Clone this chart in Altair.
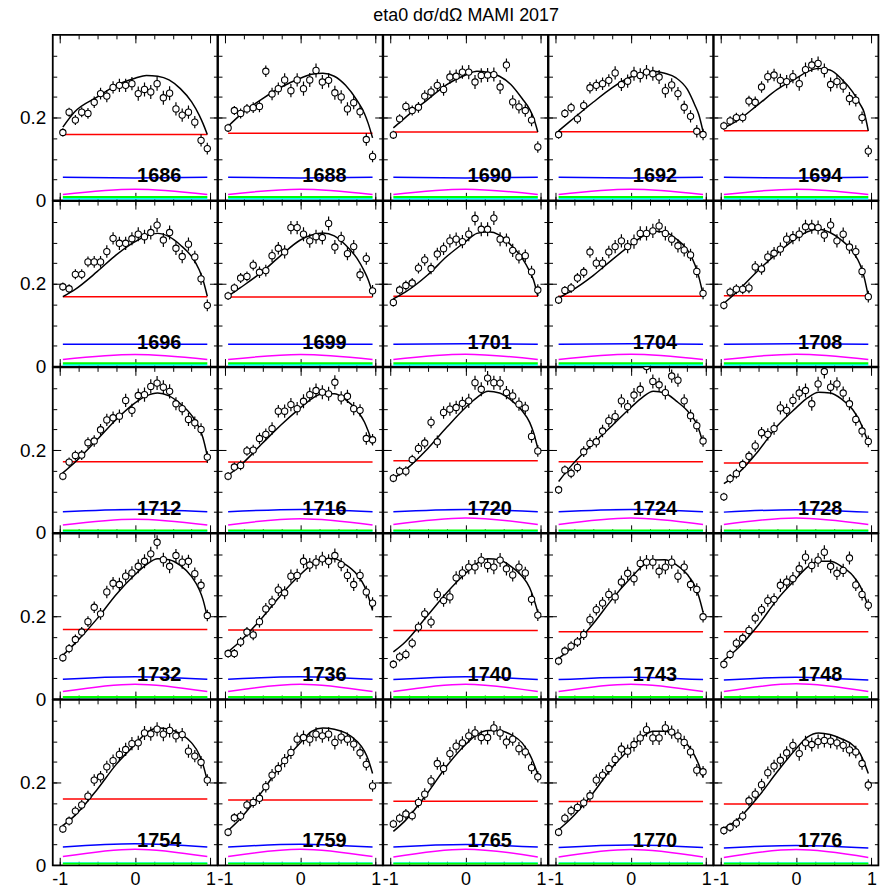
import altair as alt
import pandas as pd

TITLE = "eta0 dσ/dΩ MAMI 2017"
ENERGIES = [1686, 1688, 1690, 1692, 1694,
            1696, 1699, 1701, 1704, 1708,
            1712, 1716, 1720, 1724, 1728,
            1732, 1736, 1740, 1743, 1748,
            1754, 1759, 1765, 1770, 1776]

COS = [-0.958, -0.875, -0.792, -0.708, -0.625, -0.542, -0.458, -0.375,
       -0.292, -0.208, -0.125, -0.042, 0.042, 0.125, 0.208, 0.292,
       0.375, 0.458, 0.542, 0.625, 0.708, 0.792, 0.875, 0.958]
ERR = [0.010, 0.011, 0.012, 0.012, 0.013, 0.014, 0.014, 0.015, 0.015, 0.016, 0.016, 0.016,
       0.017, 0.017, 0.017, 0.017, 0.017, 0.017, 0.016, 0.016, 0.016, 0.015, 0.015, 0.014]

DS_1686 = [0.164, 0.213, 0.194, 0.213, 0.210, 0.237, 0.258, 0.252, 0.273, 0.278, 0.278, 0.282, 0.258, 0.268, 0.262, 0.282, 0.248, 0.259, 0.221, 0.206, 0.213, 0.189, 0.145, 0.125]
DS_1688 = [0.175, 0.217, 0.210, 0.221, 0.224, 0.227, 0.312, 0.257, 0.270, 0.291, 0.265, 0.291, 0.270, 0.291, 0.314, 0.286, 0.290, 0.260, 0.250, 0.221, 0.236, 0.214, 0.147, 0.106]
DS_1690 = [0.158, 0.197, 0.227, 0.217, 0.225, 0.252, 0.262, 0.278, 0.268, 0.298, 0.300, 0.310, 0.310, 0.286, 0.302, 0.303, 0.304, 0.274, 0.327, 0.238, 0.226, 0.217, 0.194, 0.129]
DS_1692 = [0.159, 0.210, 0.224, 0.197, 0.229, 0.272, 0.278, 0.282, 0.290, 0.308, 0.280, 0.288, 0.306, 0.302, 0.310, 0.306, 0.298, 0.265, 0.279, 0.258, 0.225, 0.203, 0.167, 0.159]
DS_1694 = [0.180, 0.192, 0.200, 0.200, 0.240, 0.237, 0.274, 0.299, 0.303, 0.290, 0.287, 0.299, 0.282, 0.316, 0.327, 0.331, 0.314, 0.280, 0.287, 0.276, 0.246, 0.242, 0.200, 0.119]
DS_1696 = [0.193, 0.188, 0.223, 0.223, 0.253, 0.253, 0.253, 0.278, 0.310, 0.298, 0.298, 0.309, 0.320, 0.314, 0.324, 0.342, 0.306, 0.324, 0.286, 0.266, 0.296, 0.265, 0.212, 0.148]
DS_1699 = [0.171, 0.190, 0.214, 0.218, 0.245, 0.228, 0.232, 0.268, 0.286, 0.277, 0.336, 0.336, 0.320, 0.304, 0.314, 0.312, 0.346, 0.289, 0.310, 0.273, 0.290, 0.222, 0.261, 0.183]
DS_1701 = [0.155, 0.185, 0.196, 0.202, 0.238, 0.258, 0.237, 0.272, 0.285, 0.304, 0.308, 0.302, 0.320, 0.358, 0.332, 0.332, 0.359, 0.308, 0.306, 0.281, 0.265, 0.268, 0.229, 0.185]
DS_1704 = [0.161, 0.184, 0.190, 0.214, 0.228, 0.277, 0.250, 0.250, 0.277, 0.290, 0.304, 0.290, 0.302, 0.322, 0.322, 0.328, 0.340, 0.322, 0.308, 0.292, 0.282, 0.270, 0.230, 0.177]
DS_1708 = [0.148, 0.180, 0.187, 0.187, 0.190, 0.241, 0.236, 0.265, 0.274, 0.284, 0.308, 0.312, 0.320, 0.338, 0.338, 0.336, 0.318, 0.342, 0.304, 0.320, 0.289, 0.278, 0.230, 0.169]
DS_1712 = [0.137, 0.171, 0.187, 0.188, 0.218, 0.222, 0.249, 0.273, 0.278, 0.282, 0.320, 0.296, 0.332, 0.334, 0.354, 0.362, 0.352, 0.342, 0.312, 0.300, 0.274, 0.266, 0.250, 0.183]
DS_1716 = [0.137, 0.159, 0.163, 0.198, 0.200, 0.228, 0.238, 0.252, 0.294, 0.294, 0.310, 0.300, 0.318, 0.334, 0.344, 0.340, 0.336, 0.364, 0.326, 0.330, 0.300, 0.296, 0.228, 0.225]
DS_1720 = [0.132, 0.149, 0.149, 0.177, 0.204, 0.217, 0.267, 0.220, 0.291, 0.299, 0.303, 0.313, 0.319, 0.363, 0.347, 0.374, 0.363, 0.362, 0.339, 0.331, 0.311, 0.302, 0.233, 0.198]
DS_1724 = [0.104, 0.152, 0.144, 0.158, 0.196, 0.216, 0.220, 0.246, 0.271, 0.281, 0.319, 0.305, 0.333, 0.347, 0.402, 0.366, 0.358, 0.339, 0.379, 0.369, 0.319, 0.283, 0.259, 0.222]
DS_1728 = [0.087, 0.131, 0.143, 0.165, 0.185, 0.210, 0.242, 0.238, 0.252, 0.302, 0.296, 0.320, 0.338, 0.344, 0.312, 0.360, 0.390, 0.352, 0.360, 0.338, 0.312, 0.274, 0.246, 0.221]
DS_1732 = [0.100, 0.122, 0.144, 0.162, 0.187, 0.222, 0.206, 0.259, 0.280, 0.277, 0.297, 0.305, 0.321, 0.333, 0.351, 0.379, 0.337, 0.321, 0.347, 0.331, 0.333, 0.303, 0.275, 0.202]
DS_1736 = [0.110, 0.110, 0.138, 0.162, 0.155, 0.187, 0.218, 0.235, 0.264, 0.257, 0.297, 0.299, 0.333, 0.324, 0.331, 0.339, 0.333, 0.347, 0.325, 0.299, 0.277, 0.299, 0.259, 0.232]
DS_1740 = [0.084, 0.102, 0.108, 0.135, 0.174, 0.206, 0.186, 0.253, 0.238, 0.247, 0.293, 0.305, 0.319, 0.319, 0.336, 0.323, 0.319, 0.336, 0.315, 0.300, 0.319, 0.305, 0.241, 0.203]
DS_1743 = [0.092, 0.116, 0.128, 0.138, 0.156, 0.192, 0.216, 0.232, 0.253, 0.247, 0.283, 0.304, 0.291, 0.328, 0.331, 0.331, 0.309, 0.319, 0.331, 0.297, 0.319, 0.277, 0.265, 0.199]
DS_1748 = [0.084, 0.108, 0.135, 0.147, 0.166, 0.196, 0.216, 0.238, 0.241, 0.275, 0.283, 0.291, 0.315, 0.343, 0.323, 0.336, 0.355, 0.321, 0.304, 0.311, 0.341, 0.276, 0.253, 0.227]
DS_1754 = [0.088, 0.107, 0.131, 0.146, 0.167, 0.206, 0.214, 0.238, 0.253, 0.268, 0.280, 0.294, 0.296, 0.320, 0.318, 0.329, 0.317, 0.326, 0.313, 0.316, 0.276, 0.264, 0.249, 0.206]
DS_1759 = [0.080, 0.115, 0.119, 0.146, 0.152, 0.162, 0.190, 0.218, 0.234, 0.253, 0.273, 0.305, 0.309, 0.305, 0.317, 0.313, 0.317, 0.297, 0.310, 0.305, 0.293, 0.272, 0.244, 0.192]
DS_1765 = [0.100, 0.114, 0.124, 0.120, 0.152, 0.172, 0.204, 0.246, 0.234, 0.270, 0.288, 0.296, 0.313, 0.320, 0.309, 0.309, 0.332, 0.320, 0.298, 0.305, 0.282, 0.274, 0.236, 0.214]
DS_1770 = [0.080, 0.114, 0.132, 0.140, 0.151, 0.168, 0.206, 0.218, 0.234, 0.256, 0.281, 0.276, 0.292, 0.308, 0.328, 0.308, 0.308, 0.332, 0.322, 0.313, 0.297, 0.274, 0.230, 0.226]
DS_1776 = [0.084, 0.092, 0.102, 0.119, 0.156, 0.172, 0.195, 0.224, 0.240, 0.254, 0.272, 0.290, 0.270, 0.296, 0.292, 0.299, 0.302, 0.300, 0.296, 0.290, 0.279, 0.274, 0.246, 0.194]
DSIG = [DS_1686, DS_1688, DS_1690, DS_1692, DS_1694,
        DS_1696, DS_1699, DS_1701, DS_1704, DS_1708,
        DS_1712, DS_1716, DS_1720, DS_1724, DS_1728,
        DS_1732, DS_1736, DS_1740, DS_1743, DS_1748,
        DS_1754, DS_1759, DS_1765, DS_1770, DS_1776]

FIT_X = [-0.958, -0.8, -0.5, -0.25, 0.0, 0.15, 0.3, 0.45, 0.6, 0.75, 0.85, 0.9, 0.958]
FIT_1686 = [0.177, 0.214, 0.250, 0.278, 0.295, 0.302, 0.300, 0.291, 0.270, 0.238, 0.206, 0.186, 0.159]
FIT_1688 = [0.179, 0.206, 0.246, 0.274, 0.295, 0.305, 0.307, 0.300, 0.278, 0.242, 0.210, 0.186, 0.151]
FIT_1690 = [0.175, 0.200, 0.244, 0.280, 0.303, 0.312, 0.309, 0.300, 0.280, 0.246, 0.220, 0.200, 0.165]
FIT_1692 = [0.168, 0.192, 0.237, 0.272, 0.298, 0.307, 0.312, 0.307, 0.296, 0.268, 0.230, 0.208, 0.166]
FIT_1694 = [0.175, 0.190, 0.232, 0.268, 0.295, 0.311, 0.319, 0.315, 0.294, 0.262, 0.232, 0.214, 0.168]
FIT_1696 = [0.169, 0.186, 0.230, 0.270, 0.302, 0.316, 0.322, 0.314, 0.294, 0.266, 0.234, 0.210, 0.170]
FIT_1699 = [0.170, 0.190, 0.230, 0.270, 0.306, 0.318, 0.323, 0.316, 0.294, 0.262, 0.230, 0.210, 0.178]
FIT_1701 = [0.164, 0.180, 0.222, 0.266, 0.302, 0.322, 0.326, 0.318, 0.294, 0.262, 0.230, 0.210, 0.170]
FIT_1704 = [0.166, 0.182, 0.220, 0.258, 0.294, 0.314, 0.327, 0.325, 0.309, 0.282, 0.246, 0.218, 0.174]
FIT_1708 = [0.153, 0.178, 0.233, 0.274, 0.310, 0.326, 0.332, 0.324, 0.306, 0.278, 0.246, 0.218, 0.170]
FIT_1712 = [0.145, 0.170, 0.226, 0.274, 0.314, 0.331, 0.338, 0.331, 0.312, 0.284, 0.254, 0.230, 0.186]
FIT_1716 = [0.139, 0.162, 0.217, 0.262, 0.302, 0.324, 0.336, 0.336, 0.322, 0.296, 0.268, 0.246, 0.214]
FIT_1720 = [0.131, 0.152, 0.204, 0.255, 0.303, 0.327, 0.342, 0.338, 0.321, 0.295, 0.267, 0.243, 0.204]
FIT_1724 = [0.124, 0.160, 0.216, 0.259, 0.303, 0.327, 0.342, 0.338, 0.319, 0.295, 0.271, 0.251, 0.216]
FIT_1728 = [0.119, 0.139, 0.198, 0.258, 0.302, 0.326, 0.340, 0.338, 0.324, 0.298, 0.268, 0.246, 0.218]
FIT_1732 = [0.106, 0.134, 0.195, 0.253, 0.301, 0.325, 0.339, 0.337, 0.323, 0.296, 0.265, 0.241, 0.198]
FIT_1736 = [0.114, 0.139, 0.198, 0.253, 0.301, 0.325, 0.339, 0.339, 0.325, 0.301, 0.273, 0.249, 0.214]
FIT_1740 = [0.114, 0.138, 0.203, 0.257, 0.304, 0.328, 0.339, 0.336, 0.321, 0.297, 0.269, 0.245, 0.210]
FIT_1743 = [0.098, 0.122, 0.182, 0.241, 0.293, 0.321, 0.336, 0.337, 0.325, 0.301, 0.273, 0.249, 0.210]
FIT_1748 = [0.094, 0.118, 0.179, 0.241, 0.291, 0.319, 0.333, 0.333, 0.321, 0.299, 0.273, 0.253, 0.222]
FIT_1754 = [0.096, 0.120, 0.184, 0.244, 0.292, 0.320, 0.332, 0.329, 0.318, 0.296, 0.268, 0.244, 0.204]
FIT_1759 = [0.084, 0.112, 0.180, 0.244, 0.296, 0.324, 0.332, 0.329, 0.320, 0.300, 0.276, 0.256, 0.222]
FIT_1765 = [0.082, 0.108, 0.176, 0.240, 0.292, 0.316, 0.326, 0.326, 0.316, 0.296, 0.268, 0.248, 0.220]
FIT_1770 = [0.086, 0.112, 0.175, 0.236, 0.284, 0.310, 0.324, 0.324, 0.313, 0.292, 0.264, 0.244, 0.212]
FIT_1776 = [0.090, 0.107, 0.166, 0.226, 0.282, 0.310, 0.320, 0.316, 0.306, 0.291, 0.270, 0.250, 0.222]
FITS = [FIT_1686, FIT_1688, FIT_1690, FIT_1692, FIT_1694,
        FIT_1696, FIT_1699, FIT_1701, FIT_1704, FIT_1708,
        FIT_1712, FIT_1716, FIT_1720, FIT_1724, FIT_1728,
        FIT_1732, FIT_1736, FIT_1740, FIT_1743, FIT_1748,
        FIT_1754, FIT_1759, FIT_1765, FIT_1770, FIT_1776]

RED = [0.159, 0.162, 0.165, 0.166, 0.168,
       0.169, 0.168, 0.170, 0.170, 0.171,
       0.172, 0.171, 0.174, 0.172, 0.169,
       0.168, 0.167, 0.166, 0.163, 0.163,
       0.160, 0.158, 0.155, 0.154, 0.148]
BLUE_END = [0.0555, 0.0555, 0.0555, 0.0555, 0.0555,
            0.054, 0.054, 0.054, 0.054, 0.054,
            0.051, 0.051, 0.051, 0.051, 0.050,
            0.048, 0.048, 0.047, 0.047, 0.046,
            0.044, 0.044, 0.044, 0.043, 0.042]
BLUE_MID = [0.054, 0.054, 0.054, 0.054, 0.054,
            0.054, 0.054, 0.055, 0.055, 0.055,
            0.0565, 0.0565, 0.0565, 0.0565, 0.056,
            0.054, 0.054, 0.054, 0.053, 0.053,
            0.052, 0.051, 0.050, 0.049, 0.048]
MAG_END = [0.014, 0.014, 0.014, 0.014, 0.014,
           0.017, 0.017, 0.017, 0.017, 0.017,
           0.019, 0.019, 0.020, 0.020, 0.020,
           0.018, 0.018, 0.018, 0.018, 0.018,
           0.021, 0.021, 0.020, 0.020, 0.019]
MAG_MID = [0.027, 0.027, 0.027, 0.027, 0.027,
           0.029, 0.029, 0.030, 0.030, 0.030,
           0.033, 0.034, 0.036, 0.036, 0.036,
           0.036, 0.036, 0.036, 0.036, 0.037,
           0.039, 0.039, 0.039, 0.038, 0.038]
GREEN = [0.008, 0.008, 0.008, 0.008, 0.008,
         0.008, 0.008, 0.008, 0.008, 0.008,
         0.006, 0.006, 0.006, 0.006, 0.006,
         0.005, 0.005, 0.005, 0.005, 0.005,
         0.004, 0.004, 0.004, 0.004, 0.004]
CYAN = [0.004, 0.004, 0.004, 0.004, 0.004,
        0.004, 0.004, 0.004, 0.004, 0.004,
        0.004, 0.004, 0.004, 0.004, 0.004,
        0.004, 0.004, 0.004, 0.004, 0.004,
        0.005, 0.005, 0.005, 0.005, 0.005]

LABEL_X = 0.32
LABEL_Y = 0.058

XD = [-1.092, 1.092]
YD = [0.0, 0.4]
W, H = 165.4, 166.2
X_MAJOR = [-1, 0, 1]
X_MINOR = [-1, -0.75, -0.5, -0.25, 0, 0.25, 0.5, 0.75, 1]
Y_MAJOR = [0, 0.2]
Y_MINOR = [0.05, 0.1, 0.15, 0.2, 0.25, 0.3, 0.35]
FONT = "Liberation Sans"


def axis(orient, values, size, labels=False, fs=18, pad=6):
    kw = dict(orient=orient, values=values, tickSize=size, offset=-size,
              labels=labels, domain=False, grid=False, title=None, ticks=True,
              tickColor="black", tickWidth=1)
    if labels:
        kw.update(labelFontSize=fs, labelPadding=pad, labelFont=FONT,
                  labelColor="black", labelFlush=False, labelOverlap=False,
                  labelExpr="'' + datum.value")
    return alt.Axis(**kw)


def X(ax, field="x"):
    return alt.X(f"{field}:Q", scale=alt.Scale(domain=XD, nice=False, zero=False), axis=ax)


def Y(ax, field="y"):
    return alt.Y(f"{field}:Q", scale=alt.Scale(domain=YD, nice=False, zero=False), axis=ax)


def line_layer(xs, ys, color, interp="linear", ax_x=None, ax_y=None, width=1.5):
    df = pd.DataFrame({"x": xs, "y": ys})
    return alt.Chart(df).mark_line(color=color, strokeWidth=width, interpolate=interp, clip=True).encode(
        x=X(ax_x), y=Y(ax_y))


def panel(i):
    r, c = divmod(i, 5)
    e = ENERGIES[i]
    vals = DSIG[i]
    pts = pd.DataFrame({"x": COS, "y": vals,
                        "lo": [v - d for v, d in zip(vals, ERR)],
                        "hi": [v + d for v, d in zip(vals, ERR)]})
    xe = [COS[0], 0.0, COS[-1]]

    red = line_layer([COS[0], COS[-1]], [RED[i], RED[i]], "#ff0000",
                     ax_x=axis("top", X_MINOR, 4), ax_y=axis("right", Y_MINOR, 4))
    fit = line_layer(FIT_X, FITS[i], "black", "monotone",
                     ax_x=axis("top", X_MAJOR, 8), ax_y=axis("right", Y_MAJOR, 8))
    cyan = line_layer([COS[0], COS[-1]], [CYAN[i], CYAN[i]], "#00ffff", width=1.8)
    green = line_layer([COS[0], COS[-1]], [GREEN[i], GREEN[i]], "#00ff00", width=1.8)
    mag = line_layer(xe, [MAG_END[i], MAG_MID[i], MAG_END[i]], "#ff00ff", "natural")
    blue = line_layer(xe, [BLUE_END[i], BLUE_MID[i], BLUE_END[i]], "#0000ff", "natural")
    text = alt.Chart(pd.DataFrame({"x": [LABEL_X], "y": [LABEL_Y], "t": [str(e)]})).mark_text(
        font=FONT, fontWeight="bold", fontSize=20, color="black", align="center", baseline="middle"
    ).encode(x=X(None), y=Y(None), text="t:N")
    err = alt.Chart(pts).mark_rule(color="black", strokeWidth=1.2, clip=True).encode(
        x=X(axis("bottom", X_MINOR, 4)), y=Y(axis("left", Y_MINOR, 4), "lo"), y2="hi:Q")
    dots = alt.Chart(pts).mark_point(shape="circle", filled=True, fill="white", stroke="black",
                                     strokeWidth=1.1, size=40, opacity=1, clip=True).encode(
        x=X(axis("bottom", X_MAJOR, 8, labels=(r == 4), fs=18, pad=5)),
        y=Y(axis("left", Y_MAJOR, 8, labels=(c == 0), fs=19, pad=7)))
    return alt.layer(cyan, green, mag, blue, red, fit, text, err, dots).resolve_axis(
        x="independent", y="independent").properties(width=W, height=H)


chart = alt.concat(*[panel(i) for i in range(25)], columns=5, spacing=0, bounds="flush").properties(
    title=alt.TitleParams(text=TITLE, fontSize=18, font=FONT, fontWeight="normal",
                          anchor="middle", frame="bounds", dx=17, offset=9, color="black"),
    padding={"left": 18, "top": 4, "right": 0, "bottom": 0},
    background="white",
).configure_view(stroke="black", strokeWidth=1.8)

chart.save("out.html", embed_options={"renderer": "svg", "actions": False})
